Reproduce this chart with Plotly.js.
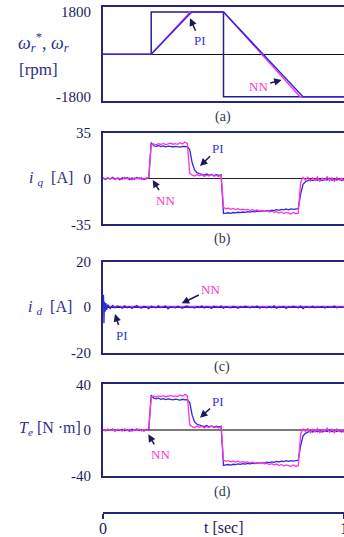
<!DOCTYPE html>
<html>
<head>
<meta charset="utf-8">
<script src="https://cdn.plot.ly/plotly-3.0.1.min.js"></script>
<style>
html,body{margin:0;padding:0;background:#fff;overflow:hidden;width:344px;height:537px;}
#chart{width:350px;height:537px;}
</style>
</head>
<body>
<div id="chart"></div>
<script>
// ---------- data ----------
// speed panel (a)
const tRef = [0, 0.2, 0.2, 0.5, 0.5, 1.025];
const wRef = [0, 0, 1800, 1800, -1800, -1800];
const tSpdPI = [0, 0.2, 0.355, 0.362, 0.368, 0.5, 0.815, 0.823, 0.83, 1.025];
const wSpdPI = [0, 0, 1661, 1736, 1800, 1800, -1636, -1740, -1800, -1800];
const tSpdNN = [0, 0.2, 0.35, 0.356, 0.361, 0.5, 0.803, 0.811, 0.818, 1.025];
const wSpdNN = [0, 0, 1677, 1744, 1800, 1800, -1641, -1740, -1800, -1800];

// common time base for iq and Te [sec]
const t = [0,0.01,0.02,0.03,0.04,0.05,0.06,0.07,0.08,0.09,0.1,0.11,0.12,0.13,0.14,0.15,0.16,0.17,0.18,0.19,
0.2,0.21,0.22,0.23,0.24,0.25,0.26,0.27,0.28,0.29,0.3,0.31,0.32,0.33,0.34,0.35,
0.36,0.37,0.38,0.39,0.4,0.41,0.42,0.43,0.44,0.45,0.46,0.47,0.48,0.49,
0.5,0.51,0.52,0.53,0.54,0.55,0.56,0.57,0.58,0.59,0.6,0.61,0.62,0.63,0.64,0.65,0.66,0.67,0.68,0.69,0.7,0.71,0.72,0.73,0.74,0.75,0.76,0.77,0.78,0.79,0.8,0.81,
0.82,0.83,0.84,0.85,0.86,0.87,0.88,0.89,0.9,0.91,0.92,0.93,0.94,0.95,0.96,0.97,0.98,0.99,1,1.01,1.02];

// iq panel (b)
const iqPI = [0.5,-0.8,0.3,-0.4,0.9,-0.6,0.2,-1.0,0.6,-0.3,0.7,-0.9,0.4,-0.5,0.8,-0.2,0.5,-0.7,0.3,0.6,
27.5,25.0,24.6,25.2,24.4,24.9,24.2,24.7,24.5,24.1,24.6,24.3,24.0,24.5,24.2,24.4,
22.0,12.0,6.5,4.5,3.8,3.2,2.6,3.4,2.5,3.1,2.2,2.9,2.4,2.8,
-26.8,-26.5,-26.2,-26.6,-26.0,-26.3,-25.8,-26.1,-25.6,-25.9,-25.4,-25.7,-25.2,-25.5,-25.0,-25.3,-24.8,-25.1,-24.4,-24.9,-24.2,-24.6,-23.8,-24.3,-23.6,-24.0,-23.3,-23.9,-23.2,-23.6,-23.4,-23.0,
-12.0,-4.5,-2.5,-1.6,-0.8,-1.5,-0.6,-1.3,-0.4,-1.6,-0.7,-1.2,0.2,-1.4,-0.5,-1.1,-0.3,-1.5,-0.6,-1.0,-0.4];
const iqNN = [0.3,-0.6,0.8,-0.4,0.2,-0.9,0.6,0.1,-0.7,0.9,-0.3,0.5,-1.1,0.4,-0.2,0.7,-0.8,0.3,-0.5,1.0,
26.0,26.5,25.8,26.6,26.0,26.8,25.9,26.4,27.0,26.2,26.7,26.1,27.4,26.3,27.8,26.8,
4.0,2.5,1.8,3.0,2.0,2.8,1.5,2.6,1.9,3.1,1.7,2.4,1.6,2.7,
-22.0,-23.2,-22.6,-23.5,-22.9,-23.8,-23.1,-24.0,-23.4,-23.9,-23.6,-24.3,-23.8,-24.6,-24.1,-24.8,-24.3,-25.1,-24.7,-25.6,-25.0,-25.9,-25.3,-26.4,-25.6,-26.8,-25.9,-26.5,-27.2,-26.0,-26.9,-26.5,
-3.0,0.8,-1.2,1.0,-2.0,0.5,-1.5,1.2,-2.2,0.3,-1.0,1.4,-1.8,0.6,-2.1,0.9,-1.3,0.2,-1.7,0.4,-0.9];

// id panel (c)
const tId = [0,0.002,0.004,0.006,0.009,0.012,0.015,
0.02,0.03,0.04,0.05,0.06,0.07,0.08,0.09,0.1,0.11,0.12,0.13,0.14,0.15,0.16,0.17,0.18,0.19,0.2,0.21,
0.22,0.23,0.24,0.25,0.26,0.27,0.28,0.29,0.3,0.31,0.32,0.33,0.34,0.35,0.36,0.37,0.38,0.39,0.4,0.41,
0.42,0.43,0.44,0.45,0.46,0.47,0.48,0.49,0.5,0.51,0.52,0.53,0.54,0.55,0.56,0.57,0.58,0.59,0.6,0.61,
0.62,0.63,0.64,0.65,0.66,0.67,0.68,0.69,0.7,0.71,0.72,0.73,0.74,0.75,0.76,0.77,0.78,0.79,0.8,0.81,
0.82,0.83,0.84,0.85,0.86,0.87,0.88,0.89,0.9,0.91,0.92,0.93,0.94,0.95,0.96,0.97,0.98,0.99,1,1.01,1.02];
const idPI = [0,5.5,-7.0,2.5,-2.0,1.8,-1.2,
1.2,-0.6,0.8,-0.3,0.5,0.1,-0.4,0.6,-0.2,0.3,
-0.5,0.2,0.7,-0.1,-0.4,0.3,0.1,-0.6,0.4,0.0,
-0.3,0.6,-0.2,0.1,0.5,-0.7,0.2,0.0,-0.3,0.4,
0.1,-0.5,0.3,0.6,-0.2,0.0,-0.4,0.3,-0.1,0.5,
-0.3,0.2,0.0,-0.6,0.4,0.1,-0.2,0.5,-0.4,0.2,
0.0,-0.3,0.3,0.1,-0.5,0.2,-0.1,0.4,0.0,-0.3,
0.2,-0.1,0.5,-0.4,0.1,0.0,-0.3,0.3,-0.2,0.6,
-0.4,0.1,0.0,0.3,-0.5,0.2,-0.1,0.4,0.0,-0.3,
0.5,-0.6,0.2,0.0,-0.2,0.4,-0.3,0.1,0.0,0.3,
-0.4,0.2,0.0,-0.1,0.5,-0.3,0.1,0.0,0.2,-0.2,0.1];
const tIdNN = [0,0.1,0.2,0.3,0.4,0.5,0.6,0.7,0.8,0.9,1.02];
const idNN = [0.4,0.3,0.5,0.4,0.3,0.4,0.3,0.4,0.3,0.4,0.3];

// Te panel (d)
const TePI = [0.4,-0.7,0.5,-0.3,0.8,-0.9,0.2,-0.5,0.7,-0.6,0.3,-1.0,0.6,-0.2,0.9,-0.4,0.1,-0.8,0.5,0.3,
30.5,28.0,27.2,27.8,26.9,27.5,26.7,27.3,26.8,26.4,27.0,26.5,26.2,26.9,26.3,26.6,
24.0,13.0,7.0,5.0,4.3,3.6,3.0,3.9,2.8,3.5,2.6,3.3,2.7,3.2,
-31.0,-30.6,-30.2,-30.7,-30.0,-30.3,-29.7,-30.1,-29.5,-29.8,-29.2,-29.6,-29.0,-29.4,-28.8,-29.1,-28.5,-28.9,-28.1,-28.6,-27.9,-28.3,-27.5,-28.0,-27.2,-27.7,-26.9,-27.5,-26.8,-27.2,-26.9,-26.5,
-14.0,-5.2,-2.9,-1.8,-0.9,-1.7,-0.7,-1.5,-0.5,-1.8,-0.8,-1.4,0.2,-1.6,-0.6,-1.3,-0.4,-1.7,-0.7,-1.2,-0.5];
const TeNN = [0.5,-0.6,0.9,-0.3,0.2,-1.0,0.7,0.1,-0.8,1.0,-0.4,0.6,-1.2,0.5,-0.2,0.8,-0.9,0.4,-0.5,1.3,
29.0,29.6,28.9,29.8,29.2,30.0,29.1,29.7,30.3,29.4,29.9,29.3,30.7,29.5,31.2,29.8,
4.5,2.9,2.0,3.4,2.3,3.2,1.7,3.0,2.1,3.5,1.9,2.7,1.8,3.1,
-26.5,-27.4,-26.8,-27.8,-27.1,-28.1,-27.3,-28.3,-27.7,-28.2,-27.9,-28.7,-28.1,-29.0,-28.5,-29.3,-28.7,-29.6,-29.1,-30.2,-29.5,-30.5,-29.8,-31.1,-30.2,-31.6,-30.5,-31.2,-32.0,-30.7,-31.7,-31.2,
-3.4,0.9,-1.4,1.2,-2.3,0.6,-1.7,1.4,-2.5,0.3,-1.1,1.6,-2.0,0.7,-2.4,1.0,-1.5,0.2,-1.9,0.5,-1.0];

// tick labels
const spdTicks = [1800, -1800];
const iqTicks = [35, 0, -35];
const idTicks = [20, 0, -20];
const TeTicks = [40, 0, -40];
const tTicks = [0, 1];

// ---------- styling ----------
const W = 350, H = 537, L = 103;
const px = x => (x - L) / (W - L);
const py = y => 1 - y / H;
const NAVY = '#25257a', PIc = '#2a2ae0', NNc = '#ff33dd', REFc = '#20208c';
const SERIF = 'Liberation Serif, Times New Roman, serif';
const XR = [0, 1.0249];

function line(x, y, c, xa, ya, w) {
  return {x: x, y: y, type: 'scatter', mode: 'lines', line: {color: c, width: w || 1.3},
          xaxis: xa, yaxis: ya, hoverinfo: 'skip', showlegend: false};
}
const traces = [
  line(tRef, wRef, REFc, 'x', 'y', 1.5),
  line(tSpdNN, wSpdNN, NNc, 'x', 'y', 1.4),
  line(tSpdPI, wSpdPI, PIc, 'x', 'y', 1.4),
  line(t, iqPI, PIc, 'x2', 'y2'),
  line(t, iqNN, NNc, 'x2', 'y2'),
  line(tIdNN, idNN, NNc, 'x3', 'y3'),
  line(tId, idPI, PIc, 'x3', 'y3'),
  line(t, TePI, PIc, 'x4', 'y4'),
  line(t, TeNN, NNc, 'x4', 'y4'),
  {x: [], y: [], type: 'scatter', mode: 'lines', xaxis: 'x5', yaxis: 'y5', showlegend: false}
];

function xax(anchor) {
  return {domain: [0, 1], range: XR, anchor: anchor, showticklabels: false, ticks: '',
          showgrid: false, zeroline: false, showline: true, mirror: true,
          linecolor: NAVY, linewidth: 2, fixedrange: true};
}
function yax(top, bot, range, ticks, zc, zw, anchor) {
  return {domain: [py(bot), py(top)], range: range, anchor: anchor, tickmode: 'array',
          tickvals: ticks, ticktext: ticks.map(String), ticks: '', ticklabelstandoff: 7,
          tickfont: {family: SERIF, size: 15, color: '#1c1c5a'},
          showgrid: false, zeroline: true, zerolinecolor: zc, zerolinewidth: zw,
          showline: true, mirror: true, linecolor: NAVY, linewidth: 2, fixedrange: true};
}

const ya = yax(6.7, 101, [-1983, 2025], spdTicks, '#111111', 1.5, 'x');
const yb = yax(132.7, 224.3, [-35, 35], iqTicks, '#222222', 1.3, 'x2');
const yc = yax(261.7, 352.7, [-20, 20], idTicks, '#222222', 1.2, 'x3');
const yd = yax(384.3, 475.7, [-40, 40], TeTicks, '#7a7a7a', 2.2, 'x4');

const titleFont = {family: SERIF, size: 16, color: '#2e2e8a'};
const capFont = {family: SERIF, size: 14, color: '#33334d'};
function txt(x, y, s, f) {
  return {xref: 'paper', yref: 'paper', x: px(x), y: py(y), text: s, showarrow: false,
          font: f, xanchor: 'center', yanchor: 'middle'};
}
function arr(hx, hy, tx, ty, s, c) {
  return {xref: 'paper', yref: 'paper', x: px(hx), y: py(hy), ax: tx - hx, ay: ty - hy,
          text: s, showarrow: true, arrowhead: 2, arrowsize: 1, arrowwidth: 1.5,
          arrowcolor: '#1a1a5a', standoff: 0, startstandoff: 1,
          font: {family: SERIF, size: 13, color: c}};
}

const annotations = [
  txt(43, 43, '<i>ω</i><sub><i>r</i></sub><sup>*</sup>, <i>ω</i><sub><i>r</i></sub>',
      {family: SERIF, size: 18, color: '#2e2e8a'}),
  txt(38, 70, '[rpm]', {family: SERIF, size: 17, color: '#2e2e8a'}),
  txt(51, 178, '<i>i</i> <sub><i>q</i></sub>  [A]', titleFont),
  txt(50, 307, '<i>i</i> <sub><i>d</i></sub>  [A]', titleFont),
  txt(50, 428, '<i>T<sub>e</sub></i> [N ·m]', titleFont),
  txt(222.7, 116.7, '(a)', capFont),
  txt(222, 239.3, '(b)', capFont),
  txt(222, 367.3, '(c)', capFont),
  txt(222, 492.3, '(d)', capFont),
  txt(224, 527, 't [sec]', {family: SERIF, size: 16, color: '#1c1c5a'}),
  arr(190, 18.3, 200, 40.7, 'PI', '#3333dd'),
  arr(281.7, 80, 258.3, 86, 'NN', '#ff33cc'),
  arr(200, 166, 218.3, 148.3, 'PI', '#3333dd'),
  arr(152.7, 180, 165, 200, 'NN', '#ff33cc'),
  arr(181.7, 303.3, 210.7, 289.3, 'NN', '#ff33cc'),
  arr(115, 314, 121.7, 335, 'PI', '#3333dd'),
  arr(200, 417.7, 218.3, 401, 'PI', '#3333dd'),
  arr(148.3, 434.3, 160, 454.3, 'NN', '#ff33cc')
];

const layout = {
  width: W, height: H, margin: {l: L, r: 0, t: 0, b: 0},
  paper_bgcolor: '#ffffff', plot_bgcolor: '#ffffff', showlegend: false,
  xaxis: xax('y'), xaxis2: xax('y2'), xaxis3: xax('y3'), xaxis4: xax('y4'),
  yaxis: ya, yaxis2: yb, yaxis3: yc, yaxis4: yd,
  xaxis5: {domain: [0, 1], range: XR, anchor: 'y5', showline: true, linecolor: NAVY, linewidth: 2,
           ticks: 'outside', ticklen: 5, tickwidth: 1.5, tickcolor: NAVY, tickmode: 'array',
           tickvals: tTicks, ticktext: tTicks.map(String), showgrid: false, zeroline: false,
           ticklabelstandoff: -4,
           tickfont: {family: SERIF, size: 16, color: '#1c1c5a'}, fixedrange: true},
  yaxis5: {domain: [py(512), py(511)], range: [0, 1], anchor: 'x5', visible: false, fixedrange: true},
  annotations: annotations
};

Plotly.newPlot('chart', traces, layout, {staticPlot: true, displayModeBar: false});
</script>
</body>
</html>
